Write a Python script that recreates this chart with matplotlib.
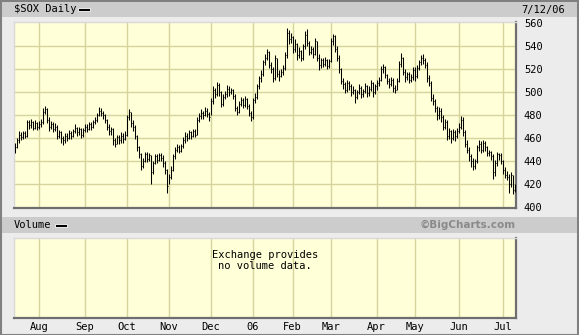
import matplotlib
matplotlib.use("Agg")
import matplotlib.pyplot as plt
from matplotlib.patches import Rectangle
import numpy as np
import pandas as pd

# daily HLC, $SOX, 2005-07-14 .. 2006-07-12 (month by month)
close_jul05 = [452, 458, 463, 461, 464, 462, 474, 471, 474, 469, 473, 470]
high_jul05 = [456, 460, 466, 465, 466, 466, 476, 476, 477, 475, 476, 474]
low_jul05 = [447, 451, 456, 458, 459, 460, 461, 468, 469, 467, 468, 467]

close_aug = [472, 474, 483, 485, 476, 470, 472, 468, 470, 462, 465, 460, 458, 462, 460, 464, 462, 466, 469, 465, 468, 463, 467]
high_aug = [475, 477, 486, 488, 486, 478, 475, 474, 473, 471, 467, 466, 462, 464, 464, 467, 466, 468, 472, 470, 470, 469, 469]
low_aug = [468, 470, 472, 481, 473, 466, 468, 465, 466, 459, 460, 456, 454, 456, 457, 459, 459, 461, 464, 462, 463, 460, 461]

close_sep = [470, 468, 472, 470, 474, 476, 480, 484, 482, 480, 476, 470, 466, 468, 458, 455, 461, 458, 462, 459, 463]
high_sep = [472, 472, 474, 474, 476, 478, 482, 487, 486, 484, 481, 477, 472, 470, 469, 460, 463, 463, 465, 464, 466]
low_sep = [465, 465, 467, 467, 469, 472, 474, 479, 479, 477, 473, 467, 463, 463, 454, 452, 455, 455, 456, 456, 458]

close_oct = [478, 483, 473, 470, 462, 452, 446, 436, 440, 446, 442, 445, 430, 438, 444, 441, 445, 443, 438, 432, 418]
high_oct = [480, 485, 483, 476, 471, 463, 453, 447, 443, 448, 448, 447, 445, 440, 446, 446, 447, 447, 445, 440, 433]
low_oct = [462, 476, 470, 466, 459, 449, 443, 432, 434, 439, 439, 440, 420, 429, 437, 438, 440, 440, 435, 429, 412]

close_nov = [426, 432, 444, 450, 452, 449, 453, 458, 462, 460, 465, 462, 466, 463, 476, 479, 482, 480, 484, 481, 478]
high_nov = [429, 436, 446, 452, 455, 454, 455, 461, 465, 464, 467, 466, 468, 468, 478, 482, 485, 484, 487, 486, 483]
low_nov = [420, 424, 431, 442, 448, 447, 448, 451, 456, 457, 459, 459, 461, 461, 463, 474, 477, 477, 479, 478, 475]

close_dec = [492, 502, 498, 506, 500, 490, 496, 498, 503, 500, 502, 497, 486, 483, 490, 493, 489, 494, 488, 482, 478]
high_dec = [495, 505, 504, 509, 508, 501, 498, 501, 506, 505, 504, 503, 498, 488, 492, 496, 495, 497, 495, 490, 484]
low_dec = [480, 490, 495, 497, 497, 487, 488, 494, 496, 497, 498, 494, 484, 480, 482, 488, 486, 487, 485, 479, 475]

close_jan = [493, 496, 505, 512, 516, 526, 530, 535, 524, 520, 512, 530, 516, 514, 518, 521, 532, 552, 546, 548]
high_jan = [495, 499, 507, 514, 519, 528, 533, 538, 536, 526, 522, 532, 530, 519, 520, 524, 535, 556, 554, 552]
low_jan = [477, 491, 494, 503, 509, 514, 524, 528, 521, 517, 509, 511, 513, 510, 513, 515, 519, 530, 542, 543]

close_feb = [538, 542, 532, 536, 530, 540, 550, 543, 535, 538, 533, 545, 530, 524, 528, 525, 528, 523, 527]
high_feb = [549, 546, 543, 539, 537, 542, 553, 555, 545, 540, 539, 547, 545, 533, 530, 530, 531, 529, 529]
low_feb = [534, 535, 528, 530, 527, 528, 538, 540, 532, 533, 530, 532, 527, 519, 521, 522, 523, 520, 521]

close_mar = [545, 549, 538, 530, 520, 510, 507, 502, 508, 505, 500, 502, 496, 500, 504, 498, 501, 505, 499, 503, 508, 500, 505]
high_mar = [547, 551, 550, 540, 532, 521, 512, 509, 511, 510, 507, 505, 503, 502, 507, 505, 503, 508, 506, 505, 511, 509, 507]
low_mar = [526, 541, 535, 527, 517, 507, 503, 499, 500, 502, 497, 498, 491, 494, 498, 495, 496, 499, 496, 497, 501, 496, 498]

close_apr = [508, 511, 520, 522, 515, 510, 507, 511, 504, 502, 510, 525, 530, 518, 513, 516, 511, 513, 519]
high_apr = [511, 513, 523, 525, 523, 516, 512, 513, 512, 506, 512, 527, 534, 531, 520, 518, 518, 516, 522]
low_apr = [502, 505, 510, 517, 512, 507, 504, 505, 500, 499, 502, 509, 522, 515, 509, 511, 508, 509, 511]

close_may = [514, 521, 526, 530, 528, 524, 512, 508, 495, 492, 486, 480, 484, 478, 470, 474, 462, 466, 460, 465, 462, 466]
high_may = [522, 524, 528, 532, 533, 530, 526, 515, 510, 498, 494, 488, 487, 486, 480, 477, 476, 469, 467, 468, 467, 469]
low_may = [510, 512, 519, 524, 525, 521, 509, 505, 492, 489, 483, 476, 477, 474, 467, 468, 458, 459, 456, 458, 457, 460]

close_jun = [470, 476, 465, 455, 450, 444, 440, 436, 440, 452, 455, 450, 456, 452, 447, 448, 444, 430, 438, 446, 445, 440]
high_jun = [473, 479, 478, 467, 458, 452, 446, 443, 442, 454, 458, 457, 458, 457, 453, 450, 449, 446, 441, 448, 447, 447]
low_jun = [464, 468, 462, 452, 447, 440, 435, 432, 433, 438, 449, 447, 448, 449, 444, 444, 441, 424, 427, 436, 441, 437]

close_jul06 = [432, 428, 426, 420, 428, 415, 417]
high_jul06 = [441, 435, 431, 429, 430, 428, 420]
low_jul06 = [429, 425, 423, 412, 417, 411, 413]

month_labels = ["Aug", "Sep", "Oct", "Nov", "Dec", "06", "Feb", "Mar", "Apr", "May", "Jun", "Jul"]
price_ticks = [400, 420, 440, 460, 480, 500, 520, 540, 560]
holidays = ["2005-09-05", "2005-11-24", "2005-12-26", "2006-01-02", "2006-01-16",
            "2006-02-20", "2006-04-14", "2006-05-29", "2006-07-04"]

closes = np.array(close_jul05 + close_aug + close_sep + close_oct + close_nov + close_dec +
                  close_jan + close_feb + close_mar + close_apr + close_may + close_jun + close_jul06)
highs = np.array(high_jul05 + high_aug + high_sep + high_oct + high_nov + high_dec +
                 high_jan + high_feb + high_mar + high_apr + high_may + high_jun + high_jul06)
lows = np.array(low_jul05 + low_aug + low_sep + low_oct + low_nov + low_dec +
                low_jan + low_feb + low_mar + low_apr + low_may + low_jun + low_jul06)

days = pd.bdate_range("2005-07-14", "2006-07-12")
days = days[~days.isin(pd.to_datetime(holidays))]
idx = np.arange(len(days))

# first trading day of every month -> gridlines / labels
month_start = [i for i in idx[1:] if days[i].month != days[i - 1].month]

W, H = 579, 335
fig = plt.figure(figsize=(W / 100, H / 100), dpi=100, facecolor="#ececec")

def px(x0, y0, x1, y1):
    return [x0 / W, 1 - y1 / H, (x1 - x0) / W, (y1 - y0) / H]

# outer frame + grey title bars
fig.add_artist(Rectangle((0.5 / W, 0.5 / H), (W - 1.5) / W, (H - 1.5) / H, transform=fig.transFigure,
                         fill=False, ec="#808080", lw=1.5))
for y0, y1 in [(2, 17), (217, 233)]:
    fig.add_artist(Rectangle((2 / W, 1 - y1 / H), (W - 4) / W, (y1 - y0) / H,
                             transform=fig.transFigure, fc="#cccccc", ec="none"))

mono = "DejaVu Sans Mono"
fig.text(14 / W, 1 - 9.5 / H, "$SOX Daily", fontsize=7.5, family=mono, va="center")
fig.text(565 / W, 1 - 9.5 / H, "7/12/06", fontsize=7.5, family=mono, va="center", ha="right")
fig.text(14 / W, 1 - 225 / H, "Volume", fontsize=7.5, family=mono, va="center")
fig.text(516 / W, 1 - 225 / H, "\u00a9BigCharts.com", fontsize=7.5, weight="bold",
         color="#8a8a8a", va="center", ha="right")
for x0, y0 in [(78, 8), (55, 224)]:
    fig.add_artist(Rectangle((x0 / W, 1 - (y0 + 3) / H), 12 / W, 3 / H, transform=fig.transFigure,
                             fc="black", ec="white", lw=0.6))

grid_c = "#d6d49c"
panel_c = "#ffffd8"

def style(ax):
    ax.set_facecolor(panel_c)
    ax.set_xlim(-0.5, len(idx) - 0.5)
    for s in ["top", "left"]:
        ax.spines[s].set_color("#d8d8d8")
        ax.spines[s].set_linewidth(1)
    for s in ["bottom", "right"]:
        ax.spines[s].set_color("#6e6e6e")
        ax.spines[s].set_linewidth(1.6)
    for m in month_start:
        ax.axvline(m, color=grid_c, lw=1, zorder=0)

ax = fig.add_axes(px(14, 22, 515.5, 208))
style(ax)
ax.set_ylim(399, 561.2)
for v in price_ticks[1:-1]:
    ax.axhline(v, color=grid_c, lw=1, zorder=0)
ax.vlines(idx, lows, highs, colors="black", lw=0.75, zorder=3)
ax.hlines(closes, idx, idx + 0.55, colors="black", lw=0.75, zorder=3)
ax.set_xticks([])
ax.yaxis.tick_right()
ax.set_yticks(price_ticks)
ax.tick_params(axis="y", length=0, pad=6, labelsize=7.5)
for t in ax.get_yticklabels():
    t.set_family(mono)

vax = fig.add_axes(px(14, 238, 515.5, 318))
style(vax)
vax.set_yticks([])
vax.set_xticks(month_start)
vax.set_xticklabels(month_labels, family=mono, fontsize=7.5)
vax.tick_params(axis="x", length=0, pad=3)
vax.text(0.5, 0.72, "Exchange provides\nno volume data.", transform=vax.transAxes,
         ha="center", va="center", fontsize=7.5, family=mono, linespacing=1.1)

fig.savefig("out.png", dpi=100, facecolor=fig.get_facecolor())
